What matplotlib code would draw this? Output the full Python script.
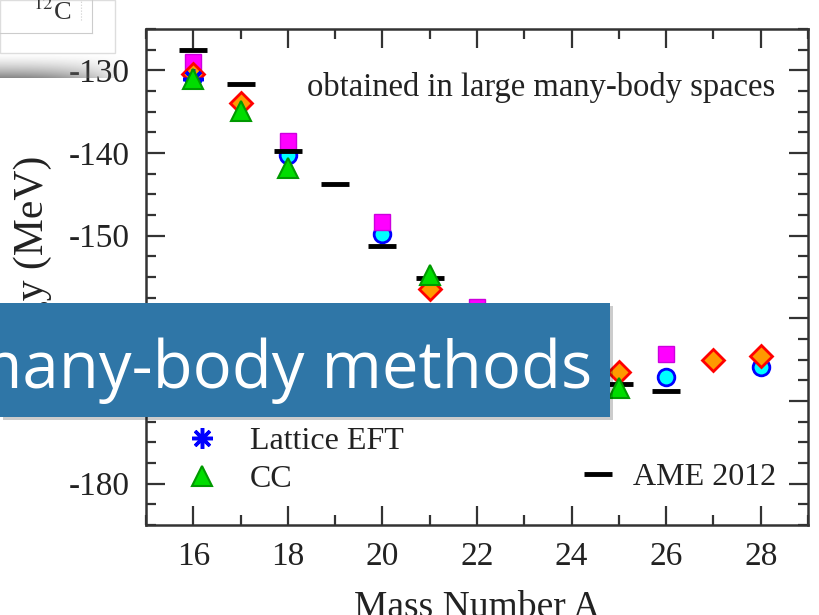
import numpy as np
import matplotlib.pyplot as plt
from matplotlib.patches import Rectangle
from matplotlib.lines import Line2D

# ground-state energies of the oxygen chain (MeV) vs mass number A
ame_A = [16, 17, 18, 19, 20, 21, 22, 23, 24, 25, 26]
ame_E = [-127.6, -131.7, -139.8, -143.7, -151.3, -155.1, -162.0, -164.8, -169.0, -168.0, -168.8]

sq_A = [16, 18, 20, 22, 26]
sq_E = [-129.0, -138.6, -148.3, -158.6, -164.3]

circ_A = [16, 18, 20, 26, 28]
circ_E = [-130.8, -140.3, -149.8, -167.1, -165.9]

dia_A = [16, 17, 21, 25, 27, 28]
dia_E = [-130.5, -134.0, -156.4, -166.5, -165.0, -164.6]

lat_A = [16]
lat_E = [-131.0]

cc_A = [16, 17, 18, 21, 25]
cc_E = [-131.1, -134.9, -141.8, -154.8, -168.4]

W, H = 820, 615
plt.rcParams['font.family'] = ['Liberation Serif', 'DejaVu Serif']
plt.rcParams['axes.unicode_minus'] = False
ink = '#222222'

fig = plt.figure(figsize=(W / 100, H / 100), dpi=100)
ax = fig.add_axes([146 / W, 1 - 525 / H, (808 - 146) / W, (525 - 29) / H])

ax.plot(circ_A, circ_E, 'o', ms=12, mfc='cyan', mec='blue', mew=2, ls='none', zorder=3, label='IT-NCSM')
ax.plot(sq_A, sq_E, 's', ms=12, mfc='magenta', mec='#cc00dd', mew=1, ls='none', zorder=4, label='MR-IM-SRG')
ax.plot(dia_A, dia_E, 'D', ms=11, mfc='#ff9900', mec='red', mew=2, ls='none', zorder=5, label='SCGF')
ax.plot(lat_A, lat_E, ls='none', marker=(8, 2, 0), ms=15, mec='blue', mew=2.5, zorder=6, label='Lattice EFT')
ame, = ax.plot(ame_A, ame_E, '_', ms=20, mec='black', mew=3.5, ls='none', zorder=7, label='AME 2012')
ax.plot(cc_A, cc_E, '^', ms=15, mfc='#00dd00', mec='#009900', mew=1.5, ls='none', zorder=8, label='CC')

ax.set_xlim(15, 29)
ax.set_ylim(-185, -125)
ax.set_xticks(range(16, 29, 2))
ax.set_xticks(range(15, 30), minor=True)
ax.set_yticks(range(-180, -125, 10))
ax.set_yticks(np.arange(-185, -124, 2.5), minor=True)
ax.tick_params(which='both', direction='in', top=True, right=True, width=1.6, color='#333333',
               labelsize=24, labelcolor=ink)
ax.tick_params(which='major', length=14, pad=12)
ax.tick_params(which='minor', length=7)
for s in ax.spines.values():
    s.set_linewidth(1.8)
    s.set_color('#333333')

ax.set_xlabel('Mass Number A', fontsize=27, color=ink, labelpad=13)
ax.set_ylabel('Energy (MeV)', fontsize=30, color=ink, labelpad=12)

ax.text(0.95, 0.883, 'obtained in large many-body spaces', transform=ax.transAxes,
        ha='right', va='center', fontsize=23.5, color=ink)

handles, labels = ax.get_legend_handles_labels()
left = [h for h, l in zip(handles, labels) if l != 'AME 2012']
leg1 = ax.legend(left, [h.get_label() for h in left], loc='lower left', frameon=False,
                 bbox_to_anchor=(8 / 662, -1 / 496), fontsize=23, handlelength=1.0,
                 handletextpad=1.0, labelspacing=0.27, borderaxespad=0.6, labelcolor=ink)
ax.add_artist(leg1)
ax.legend([ame], ['AME 2012'], loc='lower right', frameon=False, fontsize=23,
          bbox_to_anchor=(1, 1 / 496), handlelength=1.0, handletextpad=0.6,
          borderaxespad=0.6, labelcolor=ink)

# overlapping inset from another figure in the top-left corner
sh = fig.add_axes([0, 1 - 78 / H, 125 / W, 26 / H])
yy = np.linspace(1, 0, 26)[:, None]
xx = np.linspace(0, 1, 125)[None, :]
alpha = np.clip(1 - yy, 0, 1) ** 1.6 * np.clip(1 - xx ** 2.5, 0, 1) * 0.8
rgba = np.zeros((26, 125, 4))
rgba[..., :3] = 0.42
rgba[..., 3] = alpha
sh.imshow(rgba, aspect='auto', extent=(0, 1, 0, 1))
sh.axis('off')

fig.add_artist(Rectangle((0, 1 - 53 / H), 115 / W, 53 / H, transform=fig.transFigure,
                         facecolor='white', edgecolor='#dddddd', lw=1, zorder=10))
fig.add_artist(Line2D([0, 92 / W], [1 - 33 / H] * 2, transform=fig.transFigure, color='#cccccc', lw=0.8, zorder=11))
fig.add_artist(Line2D([92 / W] * 2, [1 - 33 / H, 1], transform=fig.transFigure, color='#cccccc', lw=0.8, zorder=11))
fig.add_artist(Line2D([81 / W] * 2, [1 - 20 / H, 1], transform=fig.transFigure, color='#cccccc', lw=0.8, ls=':', zorder=11))
fig.text(52 / W, 1 - 12 / H, r'$^{12}$C', ha='center', va='center', fontsize=19, color='#333333',
         zorder=12, math_fontfamily='stix')

# title banner across the chart
fig.add_artist(Rectangle((3 / W, 1 - 420 / H), 610 / W, 114 / H, transform=fig.transFigure,
                         facecolor='black', alpha=0.2, lw=0, zorder=13))
fig.add_artist(Rectangle((0, 1 - 417 / H), 610 / W, 114 / H, transform=fig.transFigure,
                         facecolor='#2f76a7', lw=0, zorder=14))
fig.text(592 / W, 1 - 388 / H, 'many-body methods', ha='right', va='baseline', fontsize=47,
         color='white', family='Open Sans', zorder=15)

fig.savefig('out.png', dpi=100)
